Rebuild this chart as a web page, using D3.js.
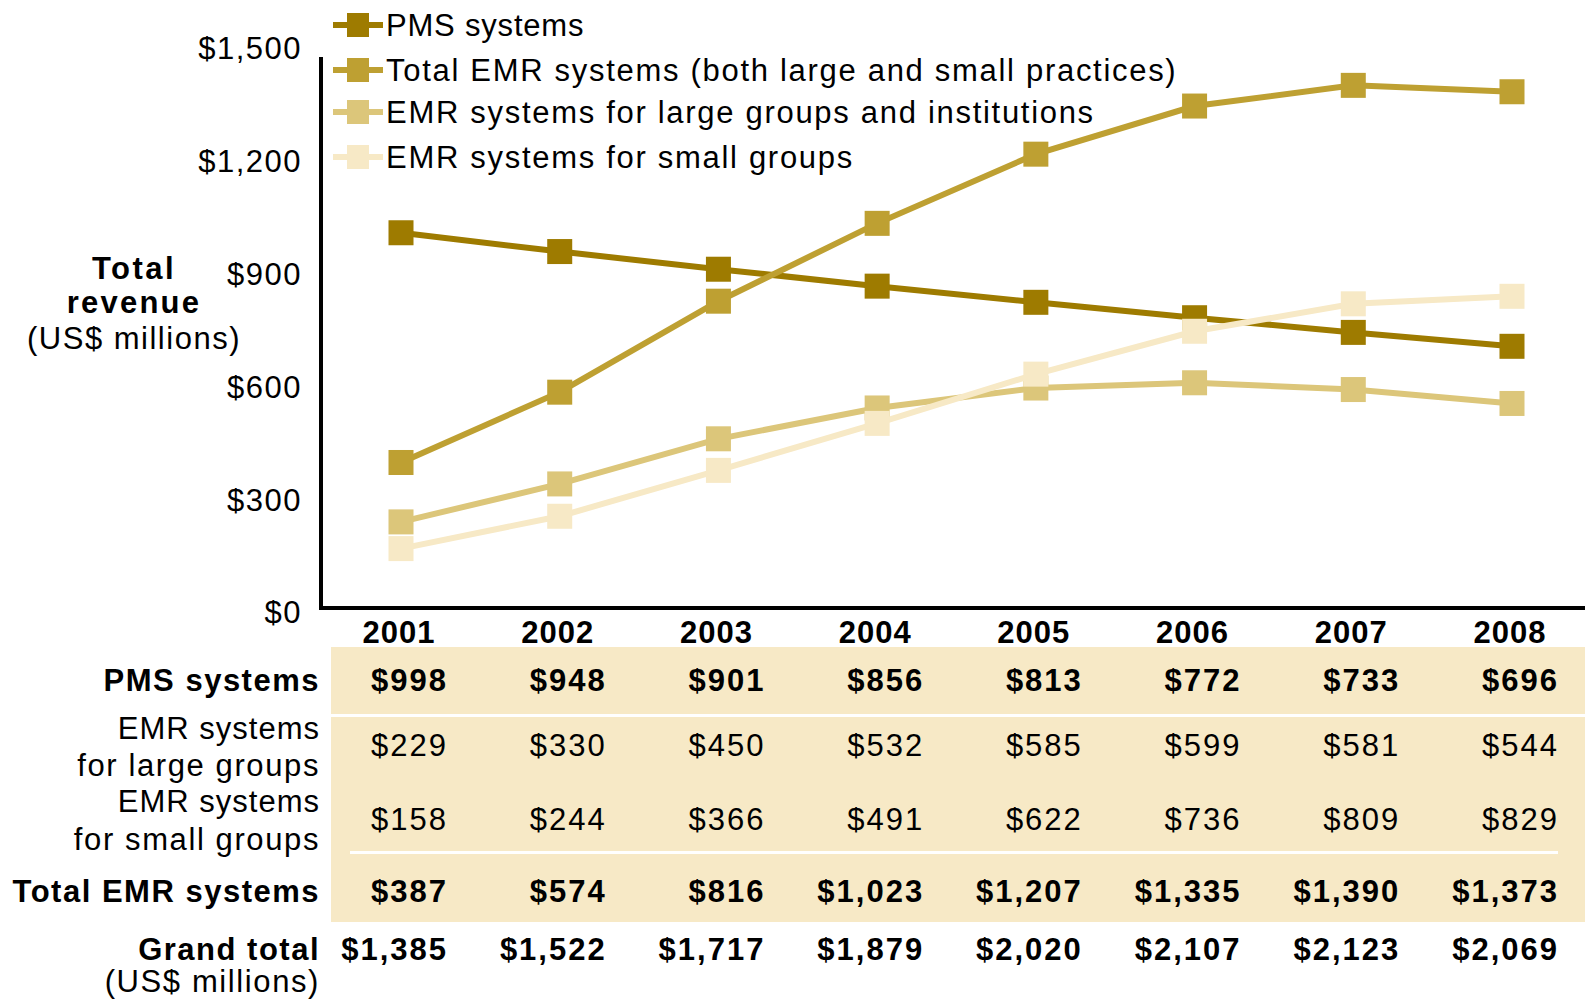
<!DOCTYPE html>
<html>
<head>
<meta charset="utf-8">
<script src="https://cdn.jsdelivr.net/npm/d3@7"></script>
<style>
  body { margin: 0; background: #fff; }
  svg { display: block; font-family: "Liberation Sans", Arial, sans-serif; }
</style>
</head>
<body>
<svg></svg>
<script>
// chart data
const years = [2001, 2002, 2003, 2004, 2005, 2006, 2007, 2008]
const pms = [998, 948, 901, 856, 813, 772, 733, 696]
const emrLarge = [229, 330, 450, 532, 585, 599, 581, 544]
const emrSmall = [158, 244, 366, 491, 622, 736, 809, 829]
const emrTotal = [387, 574, 816, 1023, 1207, 1335, 1390, 1373]
const grandTotal = [1385, 1522, 1717, 1879, 2020, 2107, 2123, 2069]
const yTicks = [0, 300, 600, 900, 1200, 1500]

const seriesNames = ['PMS systems', 'Total EMR systems (both large and small practices)',
  'EMR systems for large groups and institutions', 'EMR systems for small groups']
const seriesValues = [pms, emrTotal, emrLarge, emrSmall]
const colors = ['#9e7b00', '#bea032', '#dcc67a', '#f7e9c6']

const width = 1585
const height = 999

const svg = d3.select('svg')
  .attr('width', width)
  .attr('height', height)

const xScale = d3.scalePoint()
  .domain(years)
  .range([401, 1512])

const yScale = d3.scaleLinear()
  .domain([0, 1500])
  .range([608, 44])

const fmt = d3.format('$,')

// axes lines
svg.append('line')
  .attr('x1', 321).attr('x2', 321)
  .attr('y1', 57).attr('y2', 610)
  .attr('stroke', '#000').attr('stroke-width', 4)
svg.append('line')
  .attr('x1', 319).attr('x2', width)
  .attr('y1', 608).attr('y2', 608)
  .attr('stroke', '#000').attr('stroke-width', 4)

// y tick labels
const yAxis = d3.axisLeft(yScale)
  .tickValues(yTicks)
  .tickSize(0)
  .tickPadding(0)
  .tickFormat(fmt)
const gy = svg.append('g')
  .attr('transform', 'translate(302, 5)')
  .call(yAxis)
gy.select('.domain').remove()
gy.selectAll('text')
  .attr('font-size', 31)
  .attr('font-family', '"Liberation Sans", Arial, sans-serif')
  .attr('letter-spacing', 1.5)
  .attr('fill', '#000')

// y title
const yTitle = svg.append('text')
  .attr('text-anchor', 'middle')
  .attr('font-size', 31)
yTitle.append('tspan').attr('x', 134).attr('y', 279).attr('font-weight', 'bold').attr('letter-spacing', 2.5).text('Total')
yTitle.append('tspan').attr('x', 134).attr('y', 313).attr('font-weight', 'bold').attr('letter-spacing', 2.2).text('revenue')
yTitle.append('tspan').attr('x', 134).attr('y', 349).attr('letter-spacing', 1.5).text('(US$ millions)')

// lines
const line = d3.line()
  .x((d, i) => xScale(years[i]))
  .y(d => yScale(d))

seriesValues.forEach((vals, s) => {
  const g = svg.append('g')
  g.append('path')
    .attr('d', line(vals))
    .attr('fill', 'none')
    .attr('stroke', colors[s])
    .attr('stroke-width', 6)
  g.selectAll('rect')
    .data(vals)
    .enter()
    .append('rect')
    .attr('x', (d, i) => xScale(years[i]) - 12.5)
    .attr('y', d => yScale(d) - 12.5)
    .attr('width', 25)
    .attr('height', 25)
    .attr('fill', colors[s])
})

// legend
const legendY = [25, 70, 112, 157]
seriesNames.forEach((name, s) => {
  const g = svg.append('g').attr('transform', 'translate(0,' + legendY[s] + ')')
  g.append('line')
    .attr('x1', 333).attr('x2', 383)
    .attr('y1', 0).attr('y2', 0)
    .attr('stroke', colors[s]).attr('stroke-width', 6)
  g.append('rect')
    .attr('x', 347).attr('y', -12)
    .attr('width', 22).attr('height', 24)
    .attr('fill', colors[s])
  g.append('text')
    .attr('x', 386).attr('y', 0).attr('dy', '0.35em')
    .attr('font-size', 31)
    .attr('letter-spacing', s == 0 ? 0.8 : 1.7)
    .text(name)
})

// table background
svg.append('rect')
  .attr('x', 331).attr('y', 647)
  .attr('width', width - 331).attr('height', 275)
  .attr('fill', '#f7e9c6')
svg.append('rect')
  .attr('x', 331).attr('y', 714)
  .attr('width', width - 331).attr('height', 3)
  .attr('fill', '#fff')
svg.append('rect')
  .attr('x', 350).attr('y', 851)
  .attr('width', 1558 - 350).attr('height', 3)
  .attr('fill', '#fff')

// year labels
svg.selectAll('.year')
  .data(years)
  .enter()
  .append('text')
  .attr('class', 'year')
  .attr('x', d => xScale(d) - 2)
  .attr('y', 632).attr('dy', '0.35em')
  .attr('text-anchor', 'middle')
  .attr('font-size', 31)
  .attr('font-weight', 'bold')
  .attr('letter-spacing', 1)
  .text(d => d)

// table rows
const rows = [
  { label: ['PMS systems'], ly: [680], vals: pms, vy: 680, bold: true },
  { label: ['EMR systems', 'for large groups'], ly: [728, 765], vals: emrLarge, vy: 745, bold: false },
  { label: ['EMR systems', 'for small groups'], ly: [801, 839], vals: emrSmall, vy: 819, bold: false },
  { label: ['Total EMR systems'], ly: [891], vals: emrTotal, vy: 891, bold: true },
  { label: ['Grand total', '(US$ millions)'], ly: [949, 981], vals: grandTotal, vy: 949, bold: true }
]

rows.forEach(r => {
  r.label.forEach((t, j) => {
    const strong = r.bold && j == 0
    svg.append('text')
      .attr('x', 320).attr('y', r.ly[j]).attr('dy', '0.35em')
      .attr('text-anchor', 'end')
      .attr('font-size', 31)
      .attr('font-weight', strong ? 'bold' : 'normal')
      .attr('letter-spacing', strong ? 1.5 : (t == 'EMR systems' ? 1 : 1.6))
      .text(t)
  })
  svg.append('g').selectAll('text')
    .data(r.vals)
    .enter()
    .append('text')
    .attr('x', (d, i) => xScale(years[i]) + 47)
    .attr('y', r.vy).attr('dy', '0.35em')
    .attr('text-anchor', 'end')
    .attr('font-size', 31)
    .attr('font-weight', r.bold ? 'bold' : 'normal')
    .attr('letter-spacing', 2)
    .text(d => fmt(d))
})
</script>
</body>
</html>
